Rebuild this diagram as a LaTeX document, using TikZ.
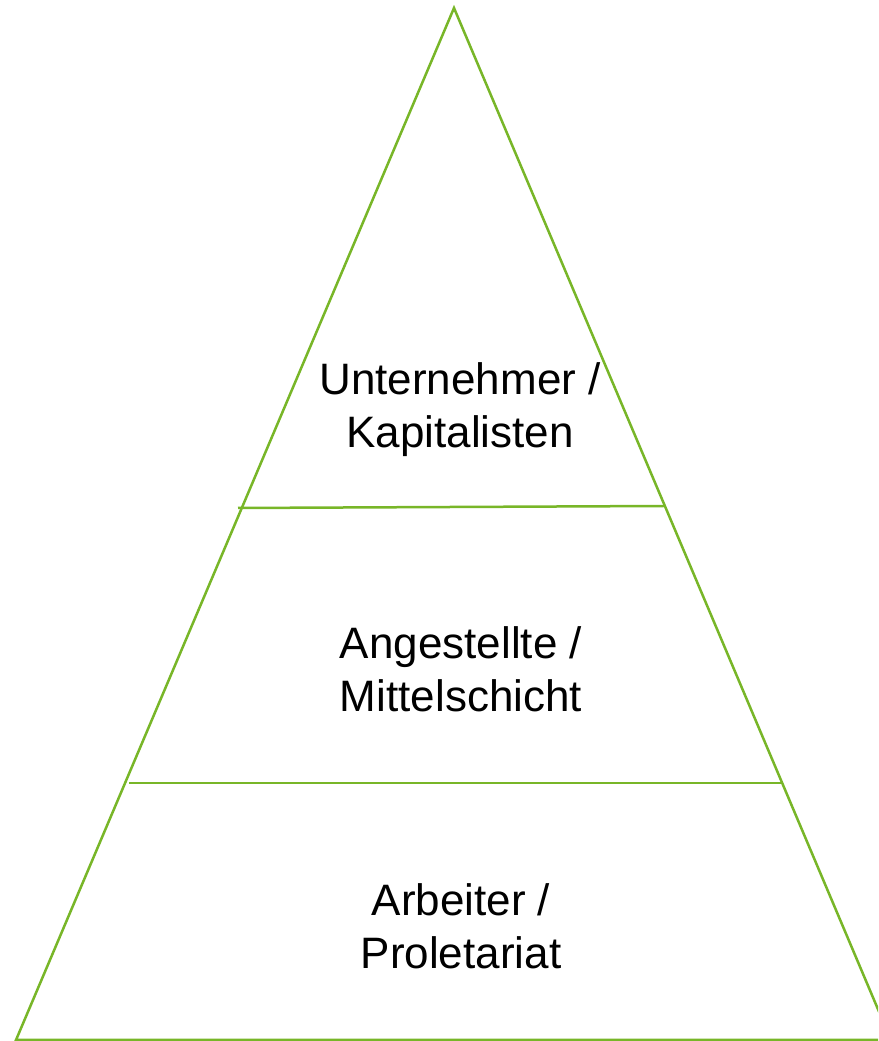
\documentclass[tikz,border=0pt]{standalone}
\usepackage{fontspec}
\setmainfont{Liberation Sans}
\definecolor{pyrgreen}{RGB}{120,182,40}
\tikzset{layer/.style={draw=pyrgreen,line width=2.5pt},
  label/.style={align=center,font=\fontsize{44}{53}\selectfont}}
\begin{document}
\begin{tikzpicture}[x=1pt,y=1pt]
  \useasboundingbox (0,0) rectangle (878,1041);
  \clip (0,0) rectangle (878,1041);
  \coordinate (top) at (454,1033);
  \coordinate (bl) at (16,1);
  \coordinate (br) at (891,1);
  \coordinate (ul) at (238,533);
  \coordinate (ur) at (665,535);
  \coordinate (ml) at (129,258);
  \coordinate (mr) at (782,258);
  \draw[layer,line join=miter] (bl)--(top)--(br)--cycle;
  \draw[layer] (ul)--(ur);
  \draw[layer] (ml)--(mr);
  \node[label] (kap) at (460,631) {Unternehmer /\\Kapitalisten};
  \node[label] (mit) at (461,372) {Angestellte /\\Mittelschicht};
  \node[label] (pro) at (461,115) {Arbeiter /\\Proletariat};
\end{tikzpicture}
\end{document}
